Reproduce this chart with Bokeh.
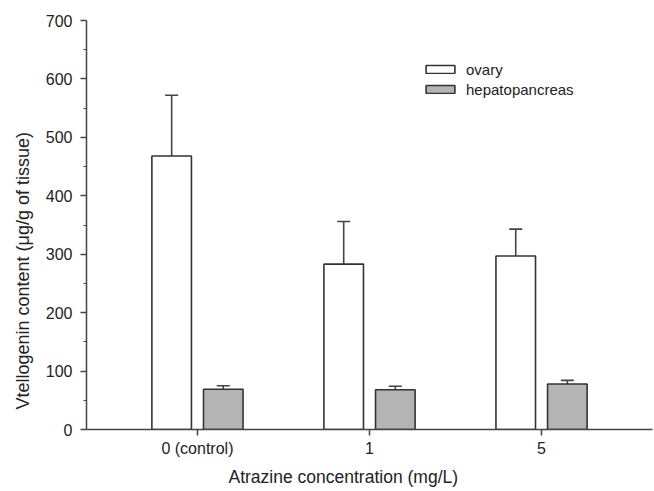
from bokeh.plotting import figure
from bokeh.models import (ColumnDataSource, Whisker, TeeHead, Legend, LegendItem,
                          FixedTicker, Range1d, Title)
from bokeh.embed import file_html
from bokeh.resources import INLINE

# ---- data ----
categories = ["0 (control)", "1", "5"]
ovary = [468, 283, 297]
ovary_err = [104, 73, 46]
hepato = [69, 68, 78]
hepato_err = [6, 6, 6]
yticks = [0, 100, 200, 300, 400, 500, 600, 700]

xpos = [1, 2, 3]
off = 0.15
bw = 0.23

src_o = ColumnDataSource(dict(x=[p - off for p in xpos], top=ovary,
                              upper=[v + e for v, e in zip(ovary, ovary_err)]))
src_h = ColumnDataSource(dict(x=[p + off for p in xpos], top=hepato,
                              upper=[v + e for v, e in zip(hepato, hepato_err)]))

p = figure(width=654, height=491, output_backend="svg", toolbar_location=None,
           x_range=Range1d(0.355, 3.645), y_range=Range1d(0, 700),
           min_border_left=86, min_border_right=2, min_border_top=20, min_border_bottom=61)
p.outline_line_color = None
p.xgrid.grid_line_color = None
p.ygrid.grid_line_color = None
p.background_fill_color = "white"
p.border_fill_color = "white"

edge = "#333333"
ro = p.vbar(x="x", top="top", width=bw, source=src_o, fill_color="white",
            line_color=edge, line_width=1.6)
rh = p.vbar(x="x", top="top", width=bw, source=src_h, fill_color="#b4b4b4",
            line_color=edge, line_width=1.6)

for src in (src_o, src_h):
    w = Whisker(base="x", lower="top", upper="upper", source=src,
                line_color="#444444", line_width=1.6,
                upper_head=TeeHead(size=13, line_color="#444444", line_width=1.6),
                lower_head=None)
    p.add_layout(w)

font = "Liberation Sans"
p.xaxis.ticker = FixedTicker(ticks=xpos)
p.xaxis.major_label_overrides = {x: c for x, c in zip(xpos, categories)}
p.yaxis.ticker = FixedTicker(ticks=yticks, minor_ticks=list(range(0, 701, 50)))
p.xaxis.minor_tick_line_color = None
for ax in (p.xaxis, p.yaxis):
    ax.axis_line_color = "#444444"
    ax.axis_line_width = 1.5
    ax.major_tick_line_color = "#444444"
    ax.major_tick_line_width = 1.5
    ax.major_tick_in = 0
    ax.major_tick_out = 6
    ax.major_label_text_font = font
    ax.major_label_text_font_size = "16px"
    ax.major_label_text_color = "#222222"
p.yaxis.minor_tick_line_color = "#444444"
p.yaxis.minor_tick_in = 0
p.yaxis.minor_tick_out = 3
p.yaxis.major_label_standoff = 8
p.xaxis.major_label_standoff = 4

# axis titles as side-panel titles (the original titles are off-centre)
xtitle = Title(text="Atrazine concentration (mg/L)", align="left", offset=142,
               vertical_align="bottom", standoff=10, text_font=font,
               text_font_size="17.5px", text_font_style="normal",
               text_color="#222222")
ytitle = Title(text="Vtellogenin content (\u03bcg/g of tissue)", align="left",
               offset=20, vertical_align="bottom", standoff=19, text_font=font,
               text_font_size="18px", text_font_style="normal",
               text_color="#222222")
p.add_layout(xtitle, "below")
p.add_layout(ytitle, "left")

legend = Legend(items=[LegendItem(label="ovary", renderers=[ro]),
                       LegendItem(label="hepatopancreas", renderers=[rh])],
                location=(336, 330), padding=0, margin=0, spacing=0,
                glyph_width=36, glyph_height=10, label_height=20,
                label_standoff=8, border_line_color=None,
                background_fill_alpha=0, label_text_font=font,
                label_text_font_size="15px", label_text_color="#222222")
p.add_layout(legend)

open("out.html", "w").write(file_html(p, INLINE))
